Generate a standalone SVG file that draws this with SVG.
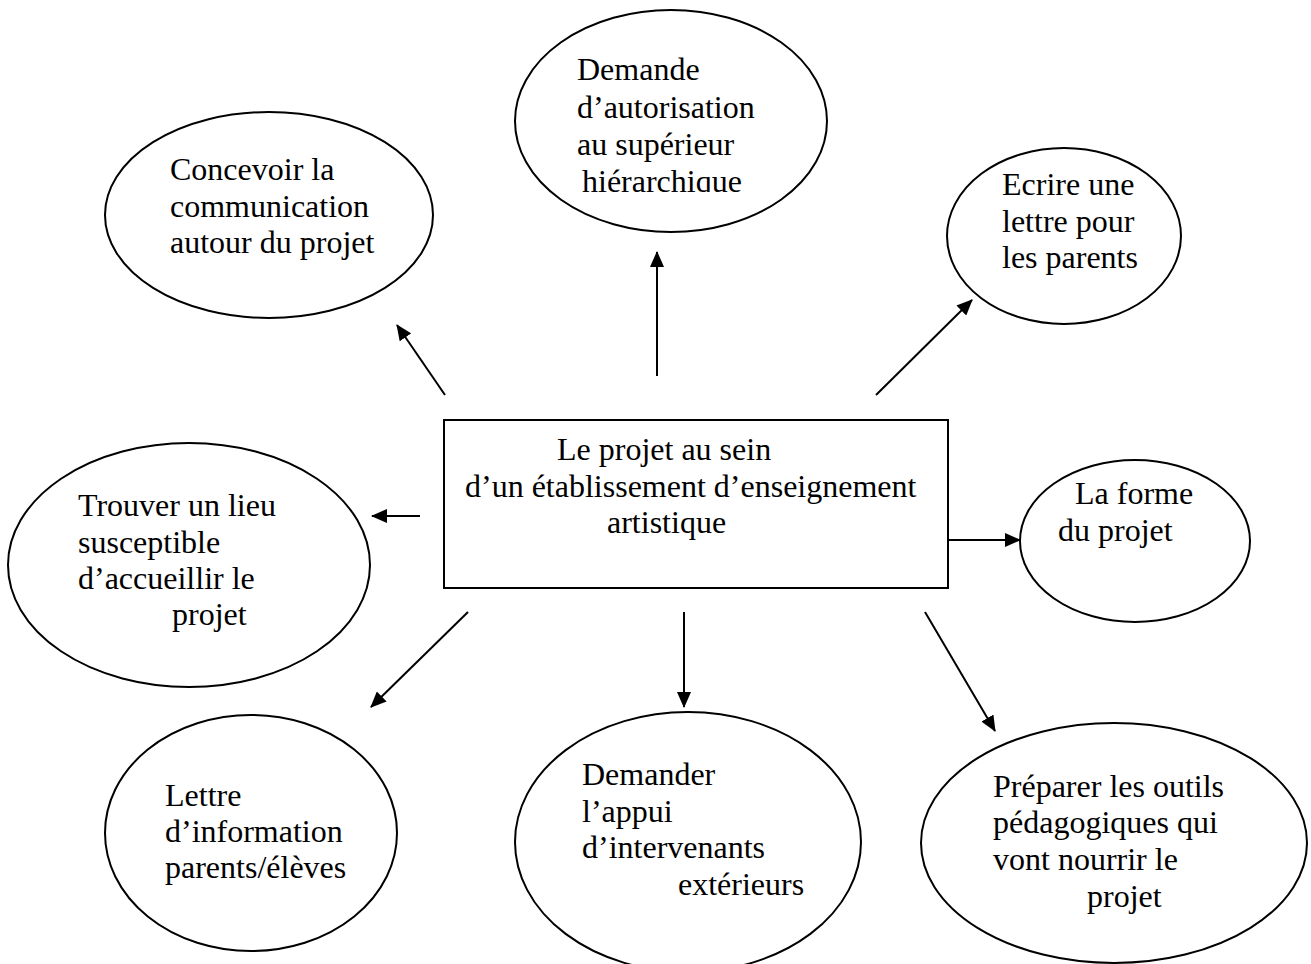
<svg xmlns="http://www.w3.org/2000/svg" width="1311" height="964" viewBox="0 0 1311 964">
<style>
.n{fill:#fff;stroke:#000;stroke-width:2}
.t{font-family:"Liberation Serif","Times New Roman",serif;font-size:32px;fill:#000}
.c{stroke:#000;stroke-width:2;fill:none;marker-end:url(#ah)}
</style>
<defs>
<marker id="ah" viewBox="0 0 16 14" refX="15" refY="7" markerWidth="16" markerHeight="14" markerUnits="userSpaceOnUse" orient="auto">
<path d="M0,0 L16,7 L0,14 Z" fill="#000"/>
</marker>
<clipPath id="clipTop"><rect x="500" y="0" width="340" height="192"/></clipPath>
</defs>
<rect width="1311" height="964" fill="#fff"/>
<g id="connectors">
<line class="c" x1="445" y1="395" x2="397" y2="325"/>
<line class="c" x1="657" y1="376" x2="657" y2="252"/>
<line class="c" x1="876" y1="395" x2="972" y2="300"/>
<line class="c" x1="420" y1="516" x2="372" y2="516"/>
<line class="c" x1="948" y1="540" x2="1020" y2="540"/>
<line class="c" x1="468" y1="612" x2="371" y2="707"/>
<line class="c" x1="684" y1="612" x2="684" y2="707"/>
<line class="c" x1="925" y1="612" x2="995" y2="731"/>
</g>
<g id="center">
<rect class="n" x="444" y="420" width="504" height="168"/>
<text class="t"><tspan x="557" y="460">Le projet au sein</tspan><tspan x="465" y="497">d’un établissement d’enseignement</tspan><tspan x="607" y="533">artistique</tspan></text>
</g>
<g id="demande">
<ellipse class="n" cx="671" cy="121" rx="156" ry="111"/>
<text class="t" clip-path="url(#clipTop)"><tspan x="577" y="80">Demande</tspan><tspan x="577" y="118">d’autorisation</tspan><tspan x="577" y="155">au supérieur</tspan><tspan x="582" y="192">hiérarchique</tspan></text>
</g>
<g id="concevoir">
<ellipse class="n" cx="269" cy="215" rx="164" ry="103"/>
<text class="t"><tspan x="170" y="180">Concevoir la</tspan><tspan x="170" y="217">communication</tspan><tspan x="170" y="253">autour du projet</tspan></text>
</g>
<g id="ecrire">
<ellipse class="n" cx="1064" cy="236" rx="117" ry="88"/>
<text class="t"><tspan x="1002" y="195">Ecrire une</tspan><tspan x="1002" y="232">lettre pour</tspan><tspan x="1002" y="268">les parents</tspan></text>
</g>
<g id="trouver">
<ellipse class="n" cx="189" cy="565" rx="181" ry="122"/>
<text class="t"><tspan x="78" y="516">Trouver un lieu</tspan><tspan x="78" y="553">susceptible</tspan><tspan x="78" y="589">d’accueillir le</tspan><tspan x="172" y="625">projet</tspan></text>
</g>
<g id="forme">
<ellipse class="n" cx="1135" cy="541" rx="115" ry="81"/>
<text class="t"><tspan x="1075" y="504">La forme</tspan><tspan x="1058" y="541">du projet</tspan></text>
</g>
<g id="lettre">
<ellipse class="n" cx="251" cy="833" rx="146" ry="118"/>
<text class="t"><tspan x="165" y="806">Lettre</tspan><tspan x="165" y="842">d’information</tspan><tspan x="165" y="878">parents/élèves</tspan></text>
</g>
<g id="demander">
<ellipse class="n" cx="688" cy="842" rx="173" ry="130"/>
<text class="t"><tspan x="582" y="785">Demander</tspan><tspan x="582" y="822">l’appui</tspan><tspan x="582" y="858">d’intervenants</tspan><tspan x="678" y="895">extérieurs</tspan></text>
</g>
<g id="preparer">
<ellipse class="n" cx="1114" cy="843" rx="193" ry="120"/>
<text class="t"><tspan x="993" y="797">Préparer les outils</tspan><tspan x="993" y="833">pédagogiques qui</tspan><tspan x="993" y="870">vont nourrir le</tspan><tspan x="1087" y="907">projet</tspan></text>
</g>
</svg>
